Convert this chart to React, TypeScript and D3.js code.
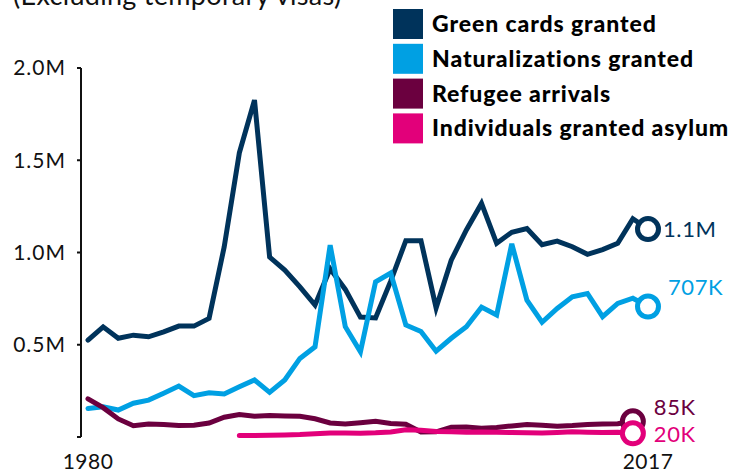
import React from "react";
import * as d3 from "d3";

// yearly counts, in thousands
const yearsMain = d3.range(1980, 2018);
const greenCards = [
  525, 597, 535, 552, 543, 570, 601, 601, 643, 1031, 1540, 1826, 975, 905, 814,
  715, 912, 800, 650, 645, 845, 1064, 1064, 700, 958, 1122, 1266, 1050, 1110,
  1130, 1042, 1062, 1031, 990, 1016, 1050, 1183, 1127,
];
const naturalizations = [
  155, 164, 146, 183, 200, 237, 276, 224, 240, 233, 272, 309, 242, 309, 426,
  489, 1040, 598, 462, 841, 889, 607, 572, 465, 535, 598, 704, 661, 1047, 742,
  622, 697, 760, 778, 652, 724, 752, 707,
];
const yearsRefugee = d3.range(1980, 2017);
const refugees = [
  207, 159, 98, 61, 70, 68, 62, 64, 76, 107, 122, 113, 116, 114, 112, 99, 76,
  70, 77, 85, 73, 69, 27, 28, 53, 54, 48, 52, 60, 68, 64, 58, 62, 68, 70, 72, 85,
];
const yearsAsylum = d3.range(1990, 2017);
const asylum = [
  8, 8, 9, 11, 13, 17, 22, 22, 21, 23, 27, 39, 37, 30, 28, 26, 27, 26, 24, 23,
  22, 25, 29, 26, 24, 26, 20,
];

const seriesNames = [
  "Green cards granted",
  "Naturalizations granted",
  "Refugee arrivals",
  "Individuals granted asylum",
];
const endLabels = ["1.1M", "707K", "85K", "20K"];
const colors = ["#00335b", "#00a0e3", "#6b003f", "#e2007a"];
const yTicks = [0, 500, 1000, 1500, 2000];
const yTickLabels = ["", "0.5M", "1.0M", "1.5M", "2.0M"];
const xLabels = [1980, 2017];

const width = 744;
const height = 470;
const font = "Lato, 'Noto Sans', sans-serif";

const App: React.FC = () => {
  const x = d3.scaleLinear().domain([1980, 2017]).range([88, 648]);
  const y = d3.scaleLinear().domain([0, 2000]).range([437, 68]);

  const series = [
    { years: yearsMain, values: greenCards },
    { years: yearsMain, values: naturalizations },
    { years: yearsRefugee, values: refugees },
    { years: yearsAsylum, values: asylum },
  ];

  const line = d3
    .line<[number, number]>()
    .x((d) => x(d[0]))
    .y((d) => y(d[1]));

  // offsets of end labels relative to last point
  const labelDx = [15, 20, 21, 21];
  const labelDy = [8, -12, -6, 9];

  return (
    <svg
      width={width}
      height={height}
      style={{ position: "absolute", left: 0, top: 0, background: "#fff" }}
      fontFamily={font}
    >
      <text x={13} y={5} fontSize={27} letterSpacing={0.3} fill="#111">
        (Excluding temporary visas)
      </text>

      {/* y axis */}
      <line x1={81} x2={81} y1={y(2000)} y2={y(0)} stroke="#111" strokeWidth={2} />
      {yTicks.map((t, i) => (
        <g key={t}>
          <line x1={77} x2={81} y1={y(t)} y2={y(t)} stroke="#111" strokeWidth={2} />
          <text
            x={66}
            y={y(t)}
            dy="0.35em"
            textAnchor="end"
            fontSize={21}
            letterSpacing={1}
            fill="#111"
          >
            {yTickLabels[i]}
          </text>
        </g>
      ))}

      {xLabels.map((yr) => (
        <text
          key={yr}
          x={x(yr)}
          y={469}
          textAnchor="middle"
          fontSize={21}
          letterSpacing={0.5}
          fill="#111"
        >
          {yr}
        </text>
      ))}

      {/* lines */}
      {series.map((s, i) => (
        <path
          key={i}
          d={line(s.years.map((yr, j) => [yr, s.values[j]]) as [number, number][]) || ""}
          fill="none"
          stroke={colors[i]}
          strokeWidth={5}
          strokeLinejoin="miter"
          strokeLinecap="round"
        />
      ))}

      {/* end markers and labels */}
      {series.map((s, i) => {
        const n = s.years.length - 1;
        const cx = x(s.years[n]);
        const cy = y(s.values[n]);
        return (
          <g key={i}>
            <circle cx={cx} cy={cy} r={10.5} fill="#fff" stroke={colors[i]} strokeWidth={5} />
            <text
              x={cx + labelDx[i]}
              y={cy + labelDy[i]}
              fontSize={22}
              letterSpacing={0.6}
              fill={colors[i]}
            >
              {endLabels[i]}
            </text>
          </g>
        );
      })}

      {/* legend */}
      {seriesNames.map((name, i) => (
        <g key={name} transform={`translate(393, ${9 + i * 34.8})`}>
          <rect width={30} height={30} fill={colors[i]} />
          <text
            x={39}
            y={15}
            dy="0.35em"
            fontSize={23}
            fontWeight={900}
            letterSpacing={0.9}
            fill="#000"
          >
            {name}
          </text>
        </g>
      ))}
    </svg>
  );
};

export default App;
